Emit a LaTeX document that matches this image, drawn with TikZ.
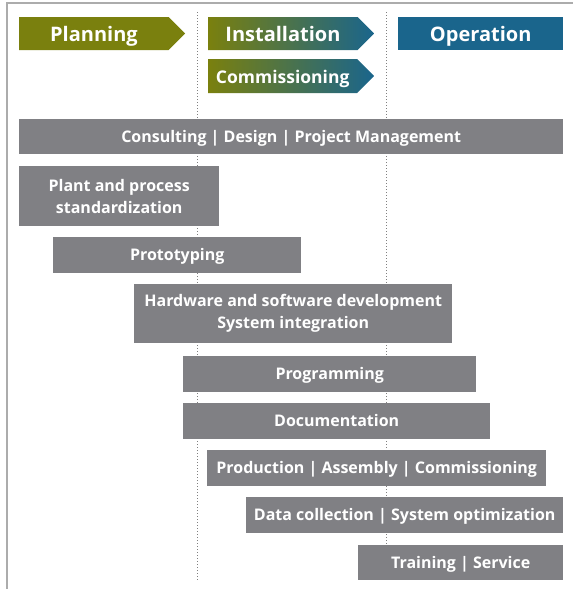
\documentclass[tikz,border=0pt]{standalone}
\usepackage{fontspec}
\setmainfont{Open Sans}
\usetikzlibrary{shapes.symbols}
\definecolor{planolive}{RGB}{122,128,14}
\definecolor{opblue}{RGB}{26,101,140}
\definecolor{bargray}{RGB}{128,128,132}
\definecolor{framegray}{RGB}{172,172,172}

\begin{document}
\begin{tikzpicture}[x=1pt,y=-1pt,
		phase node/.style={signal,signal to=east,signal pointer angle=90,inner sep=0pt,minimum width=166pt,minimum height=33pt,anchor=west,text=white,text height=16pt,text depth=0pt,font=\fontsize{20}{22}\selectfont\bfseries},
		bar node/.style={fill=bargray,anchor=north west,inner sep=0pt,align=center,text=white,font=\fontsize{16}{22}\selectfont\bfseries},
		one line/.style={text height=11.5pt,text depth=0pt},
		sep line/.style={draw=gray,dotted,line width=1pt}]
		\useasboundingbox (0,0) rectangle (573,589);
		% frame
		\draw[framegray,line width=1.5pt] (7,589) -- (7,3) -- (573,3);
		% phase borders
		\draw[sep line] (197,12) -- (197,580);
		\draw[sep line] (386,12) -- (386,580);
		
		% phases
		\node[phase node, fill=planolive] (p1) at (19,33.5) {Planning};
		\node[phase node, left color=planolive, right color=opblue] (p2) at (208,33.5) {Installation};
		\node[phase node, left color=planolive, right color=opblue, minimum height=34pt, text height=14pt, font=\fontsize{17.5}{20}\selectfont\bfseries] (p3) at (208,76) {Commissioning};
		\node[phase node, shape=rectangle, fill=opblue, minimum width=165pt] (p4) at (398,33.5) {Operation};
		
		% services
		\node[bar node, one line, minimum width=544pt, minimum height=35pt] (b1) at (19,119) {Consulting | Design | Project Management};
		\node[bar node, minimum width=200pt, minimum height=60pt] (b2) at (19,166) {Plant and process\\standardization};
		\node[bar node, one line, minimum width=248pt, minimum height=36pt] (b3) at (53,237) {Prototyping};
		\node[bar node, minimum width=318pt, minimum height=59pt] (b4) at (134,284) {Hardware and software development\\System integration};
		\node[bar node, one line, minimum width=293pt, minimum height=36pt] (b5) at (183,356) {Programming};
		\node[bar node, one line, minimum width=307pt, minimum height=36pt] (b6) at (183,403) {Documentation};
		\node[bar node, one line, minimum width=339pt, minimum height=36pt] (b7) at (207,450) {Production | Assembly | Commissioning};
		\node[bar node, one line, minimum width=317pt, minimum height=36pt] (b8) at (246,497) {Data collection | System optimization};
		\node[bar node, one line, minimum width=205pt, minimum height=35pt] (b9) at (358,545) {Training | Service};
		
		\end{tikzpicture}
\end{document}
